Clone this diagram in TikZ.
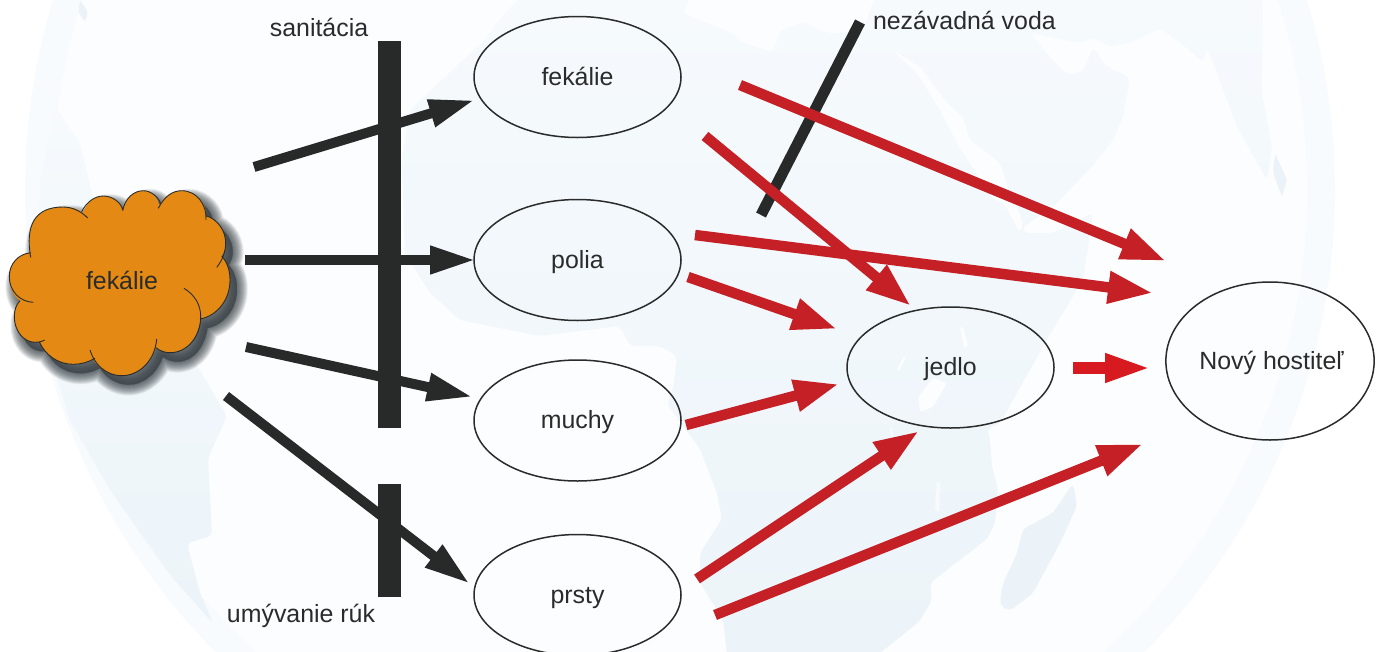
\documentclass[tikz,border=0pt]{standalone}
\usepackage{fontspec}
\setmainfont{Liberation Sans}
\usetikzlibrary{arrows.meta,shapes.geometric}
\definecolor{ink}{HTML}{2A2C2B}
\definecolor{bar}{HTML}{282A29}
\definecolor{redarrow}{HTML}{C52026}
\definecolor{brightred}{HTML}{D71920}
\definecolor{cloudfill}{HTML}{E48A14}
\definecolor{shadowc}{HTML}{3A4247}
\definecolor{globeouter}{HTML}{F8FBFD}
\definecolor{globeinner}{HTML}{FCFDFE}
\definecolor{landtop}{HTML}{F6FAFD}
\definecolor{landbot}{HTML}{ECF4F9}
\definecolor{land}{HTML}{EBF3F8}
\definecolor{lakec}{HTML}{F8FBFD}
\tikzset{
  lbl/.style={font=\fontsize{24.9}{30}\selectfont,text=ink,inner sep=0pt,outer sep=0pt},
  oval/.style={ellipse,draw=ink,line width=1.5pt,inner sep=0pt,outer sep=0pt,
    minimum width=207pt,minimum height=121pt,
    font=\fontsize{24.9}{30}\selectfont,text=ink,text height=16.5pt,text depth=0pt},
  darrow/.style={draw=bar,line width=10pt,-{Triangle[length=46pt,width=26pt]}},
  rarrow/.style={draw=redarrow,line width=10.5pt,-{Triangle[length=45pt,width=30pt]}},
  barr/.style={fill=bar,draw=none},
  landshape/.style={top color=landtop,bottom color=landbot,draw=none,rounded corners=5pt},
  sea/.style={fill=globeinner,draw=none,rounded corners=4pt},
  islet/.style={fill=land,draw=none,rounded corners=5pt},
}
\newcommand{\cloudbumps}{
  (30.7,257.3) .. controls (25,225) and (35,207) .. (63,207) .. controls (73,207) and (82,212) .. (87.7,218)
  (81.7,211.7) .. controls (86,203) and (94,196) .. (103.3,196) .. controls (112,196) and (121,202) .. (122.7,210)
  (122.7,210.7) .. controls (125,198) and (134,190.7) .. (143.3,190.7) .. controls (151,190.7) and (158,197) .. (160.5,203)
  (158.3,208.3) .. controls (164,197) and (172,190.7) .. (181.7,190.7) .. controls (197,190.7) and (207,205) .. (206,220)
  (206,215.7) .. controls (217,219) and (225.7,230) .. (225.7,243.3) .. controls (225.7,252) and (222,261) .. (216.7,267.3)
  (221.7,256) .. controls (227,262) and (230,270) .. (230,280) .. controls (230,300) and (217,316) .. (200,319)
  (184,288.3) .. controls (195,295) and (200.7,305) .. (200.7,316.7) .. controls (200.7,337) and (187,352.7) .. (170,352.7) .. controls (165,352.7) and (160,351) .. (156,347.7)
  (156.7,339) .. controls (155,360) and (140,375.7) .. (121.7,375.7) .. controls (106,375.7) and (94,364) .. (90,350)
  (95,358.3) .. controls (89,362) and (81,364.3) .. (73.3,364.3) .. controls (58,364.3) and (45,355) .. (39.3,341.7)
  (44.7,340) .. controls (41,342) and (38,342.3) .. (35,342.3) .. controls (23,342.3) and (14.3,330) .. (14.3,316.7) .. controls (14.3,310) and (16,305) .. (20,300.7)
  (33.3,302.3) .. controls (20,302) and (9.3,291) .. (9.3,276.7) .. controls (9.3,264) and (18,254) .. (30.7,252.7)
}
\newcommand{\cloudoutline}{
  (30.7,257.3) .. controls (25,225) and (35,207) .. (63,207) .. controls (73,207) and (78,209) .. (83,213)
  .. controls (86,203) and (94,196) .. (103.3,196) .. controls (112,196) and (121,202) .. (122.7,210)
  .. controls (125,198) and (134,190.7) .. (143.3,190.7) .. controls (151,190.7) and (157,197) .. (159.5,205)
  .. controls (164,197) and (172,190.7) .. (181.7,190.7) .. controls (197,190.7) and (207,205) .. (206,215.7)
  .. controls (217,219) and (225.7,230) .. (225.7,243.3) .. controls (225.7,248) and (224,252) .. (221.7,256)
  .. controls (227,262) and (230,270) .. (230,280) .. controls (230,300) and (217,316) .. (200.5,319)
  .. controls (198,337) and (187,352.7) .. (170,352.7) .. controls (165,352.7) and (160,351) .. (156,347.7)
  .. controls (150,364) and (137,375.7) .. (121.7,375.7) .. controls (110,375.7) and (99,369) .. (93,359)
  .. controls (88,362) and (81,364.3) .. (73.3,364.3) .. controls (58,364.3) and (45,355) .. (39.3,341.7)
  .. controls (38,342) and (36,342.3) .. (35,342.3) .. controls (23,342.3) and (14.3,330) .. (14.3,316.7) .. controls (14.3,310) and (16,305) .. (20,300.7)
  .. controls (13,296) and (9.3,287) .. (9.3,276.7) .. controls (9.3,264) and (18,254) .. (30.7,252.7) -- cycle
}
\begin{document}
\begin{tikzpicture}[x=1pt,y=-1pt]
\useasboundingbox (0,0) rectangle (1380,651);
\begin{scope}
\clip (0,0) rectangle (1380,651);
\fill[white] (0,0) rectangle (1380,651);
% globe
\fill[globeouter] (680,190) circle[radius=655pt];
\fill[globeinner] (680,190) circle[radius=627pt];
% Americas
\path[landshape] (55,107) -- (80,143) -- (93,197) -- (110,260) -- (150,340) -- (193,359) -- (227,416) -- (208,458) -- (212,536) -- (187,543) -- (200,593) -- (213,623) -- (170,575) -- (110,490) -- (70,420) -- (45,340) -- (38,260) -- (40,180) -- cycle;
\path[islet,fill=land,rounded corners=3pt] (80,0) -- (88,12) -- (85,22) -- (78,12) -- cycle;
% Africa, Arabia, Asia
\path[landshape] (520,-3) -- (493,27) -- (488,37) -- (460,63) -- (410,110) -- (402,160) -- (405,253) -- (430,293) -- (460,320) -- (540,336) -- (620,326) -- (630,346) -- (660,346) -- (677,356) -- (673,389) -- (667,404) -- (700,449) -- (717,493) -- (722,519) -- (700,553) -- (700,583) -- (723,619) -- (727,655) -- (877,655) -- (890,645) -- (920,621) -- (932,600) -- (930,583) -- (987,539) -- (995,523) -- (998,489) -- (992,466) -- (990,439) -- (987,429) -- (1000,423) -- (1053,329) -- (1083,280) -- (1093,213) -- (1053,233) -- (1023,233) -- (1023,227) -- (1053,207) -- (1093,165) -- (1113,140) -- (1123,117) -- (1130,77) -- (1107,67) -- (1093,47) -- (1083,72) -- (1067,75) -- (1050,57) -- (1030,33) -- (1063,40) -- (1083,43) -- (1093,37) -- (1110,47) -- (1133,42) -- (1160,28) -- (1190,50) -- (1203,63) -- (1207,47) -- (1237,127) -- (1267,180) -- (1272,147) -- (1262,93) -- (1263,-3) -- cycle;
% Mediterranean
\path[sea] (690,-3) -- (683,13) -- (733,33) -- (743,43) -- (773,52) -- (780,30) -- (803,22) -- (827,33) -- (862,32) -- (875,-3) -- cycle;
% Red Sea
\path[sea] (893,50) -- (920,67) -- (947,103) -- (963,117) -- (970,140) -- (1000,163) -- (1008,187) -- (1023,222) -- (1020,233) -- (1005,205) -- (992,198) -- (957,143) -- (940,110) -- (920,77) -- cycle;
% Madagascar, Sri Lanka
\path[islet] (1073,483) -- (1077,506) -- (1060,543) -- (1033,593) -- (1010,611) -- (1000,606) -- (1002,586) -- (1017,553) -- (1023,529) -- (1053,513) -- cycle;
\path[islet,rounded corners=3pt] (1275,153) -- (1287,180) -- (1282,197) -- (1273,173) -- cycle;
% lakes
\path[sea,rounded corners=2pt] (933,378) -- (947,383) -- (933,407) -- (920,412) -- (918,397) -- cycle;
\path[sea,rounded corners=1pt] (960,327) -- (963,327) -- (968,346) -- (964,347) -- cycle;
\path[sea,rounded corners=1pt] (904,356) -- (906,357) -- (899,371) -- (897,369) -- cycle;
\path[sea,rounded corners=1pt,fill=lakec] (890,428) -- (892,428) -- (898,465) -- (895,466) -- cycle;
\path[sea,rounded corners=1pt,fill=lakec] (937,482) -- (940,482) -- (939,512) -- (935,510) -- cycle;
% cloud shadow
\begin{scope}[shift={(7,9)}]
\foreach \w in {1,2,...,22}{
  \path[fill=shadowc,draw=shadowc,line width=\w pt,opacity=0.055,line join=round] \cloudoutline;
}
\end{scope}
\end{scope}
% cloud
\fill[cloudfill] \cloudoutline;
\draw[ink,line width=0.9pt] \cloudbumps;
\node[lbl,anchor=base] (src) at (122,289) {fekálie};
% ovals
\node[oval] (n1) at (577.5,77) {fekálie};
\node[oval] (n2) at (577.5,260) {polia};
\node[oval] (n3) at (577.5,420.5) {muchy};
\node[oval] (n4) at (577.5,595) {prsty};
\node[oval] (food) at (950.5,367.5) {jedlo};
\node[oval,minimum height=158pt,minimum width=208pt] (host) at (1270,361) {\hspace{3pt}Nový hostiteľ};
% labels
\node[lbl,anchor=base] (lsan) at (319,36) {sanitácia};
\node[lbl,anchor=base west] (lwat) at (873,29) {nezávadná voda};
\node[lbl,anchor=base] (lhand) at (301,622) {umývanie rúk};
% coordinates
\foreach \n/\x/\y in {
  a1s/254/167, a1e/475/100, a2s/245/260, a2e/476/260, a3s/246/347, a3e/473/397, a4s/226/396, a4e/470/584,
  ws/860/22, we/761/215,
  r1s/740/85, r1e/1166/261, r2s/705/136, r2e/911/306, r3s/695/235, r3e/1153/293, r4s/688/277, r4e/837/329,
  r5s/686/425, r5e/839/384, r6s/697/579, r6e/919/431, r7s/715/615, r7e/1143/444, r8s/1073/368, r8e/1152/368,
  b1a/378/41, b1b/401/428, b2a/378/484, b2b/401/597}{
  \coordinate (\n) at (\x,\y);
}
% black arrows and barriers
\draw[darrow] (a1s) -- (a1e);
\draw[darrow] (a2s) -- (a2e);
\draw[darrow] (a3s) -- (a3e);
\draw[darrow] (a4s) -- (a4e);
\fill[barr] (b1a) rectangle (b1b);
\fill[barr] (b2a) rectangle (b2b);
\draw[bar,line width=11pt] (ws) -- (we);
% red arrows
\draw[rarrow] (r1s) -- (r1e);
\draw[rarrow] (r2s) -- (r2e);
\draw[rarrow] (r3s) -- (r3e);
\draw[rarrow] (r4s) -- (r4e);
\draw[rarrow] (r5s) -- (r5e);
\draw[rarrow] (r6s) -- (r6e);
\draw[rarrow] (r7s) -- (r7e);
\draw[draw=brightred,line width=12pt,-{Triangle[length=47pt,width=26pt]}] (r8s) -- (r8e);
\end{tikzpicture}
\end{document}
